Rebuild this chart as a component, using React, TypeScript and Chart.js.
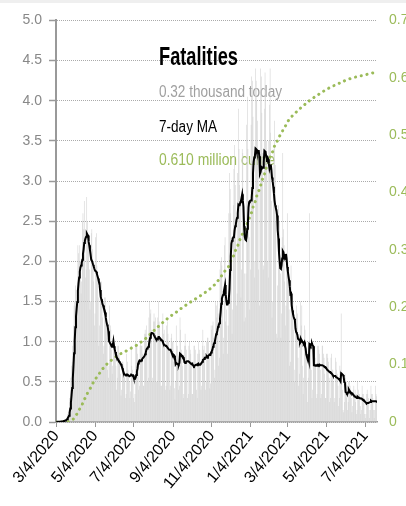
import React, { useEffect, useRef } from 'react';
import { Chart, registerables } from 'chart.js';

Chart.register(...registerables);

// ---------- data (thousands of deaths per day, starting 3/4/2020) ----------
const startDate = '3/4/2020';

const dailyMarMay2020 = [
  0.002, 0.001, 0.003, 0.002, 0.003, 0.004, 0.006,
  0.008, 0.01, 0.013, 0.012, 0.015, 0.024, 0.026,
  0.03, 0.04, 0.05, 0.06, 0.1, 0.12, 0.15,
  0.3, 0.4, 0.55, 0.7, 0.75, 0.95, 1.2,
  1.45, 1.5, 1.7, 1.65, 1.4, 1.55, 2.2,
  2.1, 2.0, 2.2, 2.0, 1.6, 1.75, 2.5,
  2.6, 2.4, 2.75, 2.2, 1.8, 1.9, 2.8,
  2.5, 2.3, 2.2, 1.9, 1.4, 1.5, 2.35,
  2.4, 2.15, 2.0, 1.75, 1.2, 1.35, 2.3,
  2.35, 1.95, 1.8, 1.55, 0.95, 1.2, 1.7,
  1.75, 1.75, 1.6, 1.3, 0.85, 0.95, 1.55,
  1.55, 1.3, 1.25, 1.05, 0.65, 0.55, 0.7,
];
const dailyJunAug2020 = [
  1.45, 1.2, 1.15, 0.9, 0.6, 0.7, 1.05,
  1.0, 0.95, 0.9, 0.7, 0.4, 0.55, 0.95,
  0.95, 0.85, 0.8, 0.6, 0.33, 0.4, 0.75,
  0.75, 0.7, 0.65, 0.55, 0.3, 0.35, 0.85,
  0.75, 0.65, 0.6, 0.5, 0.3, 0.38, 0.95,
  0.7, 0.65, 0.6, 0.3, 0.25, 0.35, 1.0,
  0.95, 0.95, 0.85, 0.75, 0.4, 0.45, 0.95,
  1.0, 0.95, 0.95, 0.85, 0.45, 0.45, 1.1,
  1.15, 1.1, 1.2, 0.95, 0.5, 0.55, 1.3,
  1.5, 1.35, 1.4, 1.15, 0.5, 0.55, 1.25,
  1.35, 1.25, 1.3, 1.05, 0.5, 0.5, 1.3,
  1.5, 1.25, 1.2, 1.0, 0.45, 0.45, 1.25,
  1.35, 1.1, 1.15, 0.95, 0.4, 0.45, 1.2,
];
const dailySepNov2020 = [
  1.25, 1.1, 1.0, 0.9, 0.4, 0.45, 1.05,
  1.1, 1.0, 1.0, 0.75, 0.42, 0.28, 0.5,
  1.2, 0.95, 0.95, 0.7, 0.4, 0.45, 1.3,
  1.15, 0.9, 0.85, 0.7, 0.3, 0.35, 0.95,
  1.1, 0.95, 0.9, 0.75, 0.3, 0.35, 0.95,
  1.0, 0.9, 0.85, 0.7, 0.35, 0.35, 0.75,
  0.95, 0.95, 0.9, 0.7, 0.4, 0.3, 0.85,
  1.0, 0.85, 0.9, 0.7, 0.4, 0.45, 0.95,
  1.15, 0.9, 0.95, 0.8, 0.4, 0.5, 1.0,
  1.05, 1.05, 1.0, 0.85, 0.42, 0.48, 1.2,
  1.15, 1.2, 1.25, 1.05, 0.55, 0.65, 1.5,
  1.45, 1.3, 1.5, 1.35, 0.7, 0.8, 1.9,
  2.0, 2.05, 1.95, 1.55, 0.85, 1.05, 2.2,
  2.3, 1.25, 1.4, 1.2, 0.85, 1.2, 2.6,
];
const dailyDecFeb2021 = [
  3.1, 2.9, 2.6, 2.3, 1.1, 1.4, 2.7,
  3.15, 3.45, 2.95, 2.5, 1.45, 1.6, 3.1,
  3.9, 3.4, 2.95, 2.75, 1.55, 1.9, 3.4,
  3.35, 2.85, 1.25, 1.85, 1.3, 1.85, 3.7,
  4.05, 3.4, 2.55, 2.3, 1.4, 1.9, 3.7,
  4.3, 4.25, 3.8, 3.3, 1.8, 2.0, 4.4,
  4.25, 4.0, 3.75, 3.4, 1.9, 1.45, 2.9,
  4.4, 4.3, 3.85, 3.35, 1.9, 1.95, 3.9,
  4.35, 4.15, 3.5, 3.2, 2.0, 1.8, 3.5,
  3.95, 4.4, 3.6, 2.75, 1.3, 1.5, 3.0,
  3.4, 3.75, 3.2, 2.5, 1.1, 1.05, 1.7,
  2.7, 2.5, 2.5, 1.85, 1.05, 1.35, 2.3,
  3.35, 2.4, 2.2, 1.75, 1.2, 1.45, 1.9,
];
const dailyMarMay2021 = [
  2.6, 2.0, 1.8, 1.4, 0.7, 0.75, 1.95,
  1.6, 1.55, 1.5, 1.15, 0.5, 0.65, 1.2,
  1.3, 1.45, 1.35, 0.8, 0.45, 0.6, 1.1,
  1.5, 1.2, 1.45, 0.7, 0.35, 0.55, 1.2,
  1.15, 1.0, 0.95, 0.5, 0.25, 0.55, 0.95,
  2.6, 0.95, 0.85, 0.65, 0.3, 0.4, 0.85,
  0.95, 0.95, 0.8, 0.7, 0.3, 0.35, 0.95,
  0.95, 0.9, 0.85, 0.65, 0.3, 0.35, 0.95,
  0.95, 0.85, 0.8, 0.6, 0.3, 0.3, 0.85,
  0.85, 0.8, 0.75, 0.55, 0.25, 0.3, 0.8,
  0.85, 0.65, 0.65, 0.5, 0.25, 0.3, 0.8,
  0.75, 0.65, 0.6, 0.45, 0.2, 0.3, 0.7,
];
const dailyJunJul2021 = [
  0.65, 1.35, 0.55, 0.4, 0.15, 0.12, 0.25,
  0.6, 0.55, 0.5, 0.3, 0.15, 0.25, 0.5,
  0.5, 0.45, 0.4, 0.3, 0.12, 0.2, 0.4,
  0.45, 0.35, 0.4, 0.25, 0.1, 0.15, 0.5,
  0.4, 0.35, 0.35, 0.2, 0.1, 0.15, 0.45,
  0.35, 0.35, 0.3, 0.1, 0.05, 0.1, 0.35,
  0.4, 0.35, 0.3, 0.15, 0.05, 0.15, 0.45,
  0.35, 0.35, 0.3, 0.15, 0.05, 0.15, 0.45,
  0.35, 0.32,
];

const tickLabels = [
  '3/4/2020', '5/4/2020', '7/4/2020', '9/4/2020', '11/4/2020',
  '1/4/2021', '3/4/2021', '5/4/2021', '7/4/2021',
];

const titleText = 'Fatalities';
const todayText = '0.32 thousand today';
const maText = '7-day MA';
const cumeText = '0.610 million cume';

// ---------- derived ----------
const daily: number[] = [
  ...dailyMarMay2020,
  ...dailyJunAug2020,
  ...dailySepNov2020,
  ...dailyDecFeb2021,
  ...dailyMarMay2021,
  ...dailyJunJul2021,
];

function parseDate(s: string): number {
  const [m, d, y] = s.split('/').map(Number);
  return Date.UTC(y, m - 1, d);
}
const DAY = 86400000;
const startMs = parseDate(startDate);
const tickDays = tickLabels.map((l) => Math.round((parseDate(l) - startMs) / DAY));

const ma7 = daily.map((_, i) => {
  const w = daily.slice(Math.max(0, i - 6), i + 1);
  return w.reduce((a, b) => a + b, 0) / w.length;
});
let running = 0;
const cumeMillions = daily.map((v) => {
  running += v;
  return running / 1000;
});

const GREEN = '#9bbb59';
const FONT = '"Liberation Sans", Arial, sans-serif';
const NARROW = '"Liberation Sans Narrow", "Liberation Sans", Arial, sans-serif';

const textPlugin = {
  id: 'overlayText',
  beforeDatasetsDraw(chart: any) {
    const ctx = chart.ctx;
    const items = [
      { text: titleText, font: `bold 25px ${NARROW}`, color: '#000000', y: 65, w: 79 },
      { text: todayText, font: `16px ${NARROW}`, color: '#a0a0a0', y: 97, w: 123 },
      { text: maText, font: `16px ${NARROW}`, color: '#000000', y: 131.5, w: 58 },
      { text: cumeText, font: `16px ${NARROW}`, color: GREEN, y: 165, w: 116 },
    ];
    ctx.save();
    for (const it of items) {
      ctx.font = it.font;
      ctx.fillStyle = it.color;
      ctx.textBaseline = 'alphabetic';
      ctx.textAlign = 'left';
      const mw = ctx.measureText(it.text).width;
      ctx.save();
      ctx.translate(159, it.y);
      ctx.scale(it.w / mw, 1);
      ctx.fillText(it.text, 0, 0);
      ctx.restore();
    }
    ctx.restore();
  },
};

export default function App() {
  const ref = useRef<HTMLCanvasElement | null>(null);

  useEffect(() => {
    if (!ref.current) return;
    const chart = new Chart(ref.current, {
      type: 'bar',
      data: {
        datasets: [
          {
            type: 'line',
            label: maText,
            data: ma7.map((v, i) => ({ x: i, y: v })),
            borderColor: '#000000',
            borderWidth: 2,
            pointRadius: 0,
            tension: 0,
            yAxisID: 'y',
            order: 1,
          } as any,
          {
            type: 'line',
            label: cumeText,
            data: cumeMillions.map((v, i) => ({ x: i, y: v })),
            borderColor: GREEN,
            borderWidth: 3,
            borderCapStyle: 'round',
            borderDash: [0.1, 5.8],
            pointRadius: 0,
            tension: 0,
            yAxisID: 'y2',
            order: 2,
          } as any,
          {
            type: 'bar',
            label: todayText,
            data: daily.map((v, i) => ({ x: i, y: v })),
            backgroundColor: '#cccccc',
            barPercentage: 0.9,
            categoryPercentage: 0.9,
            yAxisID: 'y',
            order: 3,
          } as any,
        ],
      },
      options: {
        animation: false,
        responsive: false,
        devicePixelRatio: 1,
        events: [],
        layout: { padding: { top: 14, left: 0, right: 0, bottom: 0 } },
        plugins: {
          legend: { display: false },
          tooltip: { enabled: false },
          title: { display: false },
        },
        scales: {
          x: {
            type: 'linear',
            offset: false,
            min: -0.5,
            max: daily.length - 0.5,
            afterBuildTicks: (scale: any) => {
              scale.ticks = tickDays.map((v) => ({ value: v }));
            },
            afterFit: (scale: any) => {
              scale.height = 84;
            },
            ticks: {
              autoSkip: false,
              maxRotation: 50,
              minRotation: 50,
              padding: 0,
              color: '#000000',
              font: { family: FONT, size: 16 },
              callback: (value: any) => {
                const idx = tickDays.indexOf(Number(value));
                return idx >= 0 ? tickLabels[idx] : '';
              },
            },
            grid: {
              display: true,
              offset: false,
              drawOnChartArea: false,
              drawTicks: true,
              tickLength: 5,
              color: '#999999',
            },
            border: { display: true, color: '#999999', width: 1.5 },
          },
          y: {
            type: 'linear',
            position: 'left',
            min: 0,
            max: 5,
            afterFit: (scale: any) => {
              scale.width = 56;
            },
            ticks: {
              stepSize: 0.5,
              padding: 7,
              color: '#888888',
              font: { family: FONT, size: 14 },
              callback: (v: any) => Number(v).toFixed(1),
            },
            grid: {
              color: '#aaaaaa',
              lineWidth: 1,
              tickLength: 7,
              tickColor: '#999999',
              tickWidth: 1.5,
            },
            border: { display: true, color: '#999999', width: 2, dash: [1, 1] },
          },
          y2: {
            type: 'linear',
            position: 'right',
            min: 0,
            max: 0.7,
            afterFit: (scale: any) => {
              scale.width = 29;
            },
            ticks: {
              stepSize: 0.1,
              padding: 12,
              color: GREEN,
              font: { family: FONT, size: 14 },
              callback: (v: any) => (Number(v) === 0 ? '0' : Number(v).toFixed(1)),
            },
            grid: { display: false, drawTicks: false, drawOnChartArea: false },
            border: { display: false },
          },
        },
      } as any,
      plugins: [textPlugin],
    });
    return () => chart.destroy();
  }, []);

  return (
    <div style={{ position: 'absolute', left: 0, top: 0, width: 406, height: 506, background: '#ffffff' }}>
      <canvas ref={ref} width={406} height={506} style={{ display: 'block', width: 406, height: 506 }} />
      <div style={{ position: 'absolute', left: 0, top: 0, width: 406, height: 3, background: '#efefef' }} />
    </div>
  );
}
